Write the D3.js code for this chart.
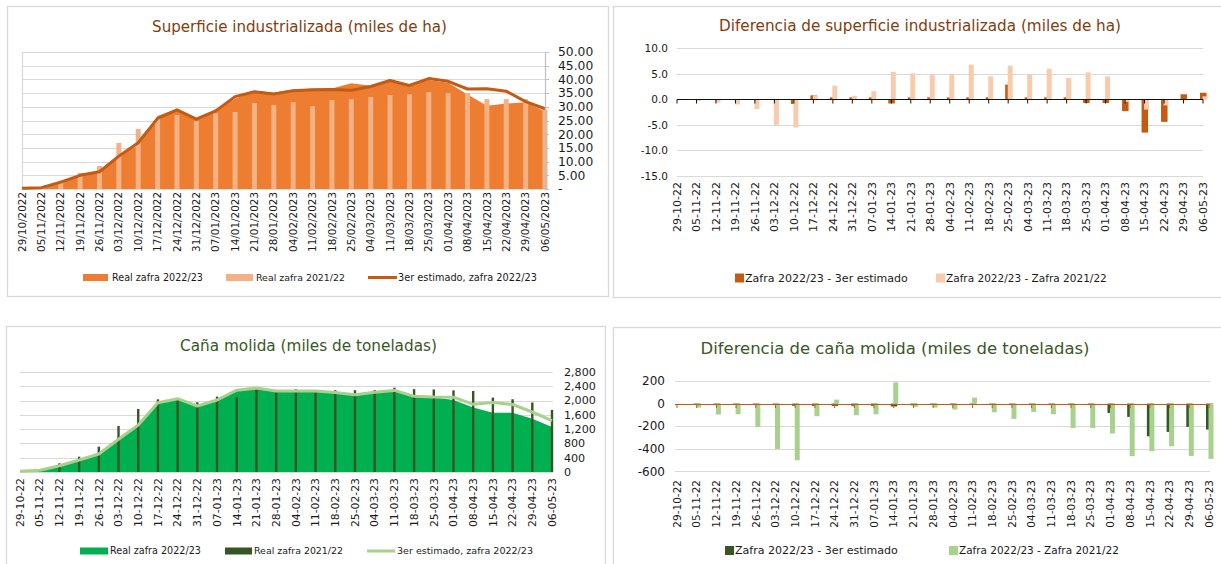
<!DOCTYPE html>
<html><head><meta charset="utf-8">
<script src="https://cdn.jsdelivr.net/npm/d3@7/dist/d3.min.js"></script>
<style>body{margin:0;background:#fff} svg{display:block;font-family:"DejaVu Sans",sans-serif}</style>
</head><body><svg id="c" width="1221" height="564"></svg>
<script>
// ---------- DATA ----------
const datesLong = ["29/10/2022","05/11/2022","12/11/2022","19/11/2022","26/11/2022","03/12/2022","10/12/2022","17/12/2022","24/12/2022","31/12/2022","07/01/2023","14/01/2023","21/01/2023","28/01/2023","04/02/2023","11/02/2023","18/02/2023","25/02/2023","04/03/2023","11/03/2023","18/03/2023","25/03/2023","01/04/2023","08/04/2023","15/04/2023","22/04/2023","29/04/2023","06/05/2023"];
const datesShort = ["29-10-22","05-11-22","12-11-22","19-11-22","26-11-22","03-12-22","10-12-22","17-12-22","24-12-22","31-12-22","07-01-23","14-01-23","21-01-23","28-01-23","04-02-23","11-02-23","18-02-23","25-02-23","04-03-23","11-03-23","18-03-23","25-03-23","01-04-23","08-04-23","15-04-23","22-04-23","29-04-23","06-05-23"];

// Superficie industrializada (miles de ha)
const supReal2223 = [0.3,0.5,2.5,5.0,6.3,12.0,16.0,26.6,29.3,25.9,28.9,32.9,35.9,35.1,36.3,36.6,36.7,38.6,37.7,39.9,38.1,39.8,38.8,34.5,30.4,31.2,31.7,28.3];
const supReal2122 = [0,0.3,3.0,5.8,8.4,16.8,21.9,25.5,27.0,24.8,27.7,28.1,31.4,30.7,31.7,30.3,32.5,32.8,33.6,34.3,34.6,35.4,35.0,35.0,32.8,32.8,32.8,29.0];
const supEst3 = [0.3,0.5,2.5,5.0,6.3,12.0,16.9,25.8,28.9,25.5,28.5,33.7,35.5,34.7,35.9,36.2,36.3,36.0,37.4,39.6,37.8,40.3,39.3,36.5,36.6,35.7,31.9,29.3];
const supTicks = [0,5,10,15,20,25,30,35,40,45,50];
const supTickLabels = ["-","5.00","10.00","15.00","20.00","25.00","30.00","35.00","40.00","45.00","50.00"];

// Diferencia de superficie
const supDiffEst = [0,0,0,0,0,0,-0.9,0.8,0.4,0.4,0.4,-0.8,0.4,0.4,0.4,0.4,0.4,2.9,0.4,0.4,0.4,-0.7,-0.7,-2.3,-6.5,-4.4,1.0,1.3];
const supDiffPrev = [0,-0.3,-0.6,-1.0,-1.9,-5.0,-5.5,0.8,2.7,0.7,1.6,5.4,5.1,4.8,5.0,6.8,4.5,6.6,4.8,6.0,4.2,5.3,4.5,-0.5,-2.0,-1.2,-0.2,0.6];
const supDiffTicks = [-15,-10,-5,0,5,10];
const supDiffTickLabels = ["-15.0","-10.0","-5.0","0.0","5.0","10.0"];

// Caña molida (miles de toneladas)
const canaReal2223 = [20,50,176,336,504,915,1316,1941,2053,1848,2016,2277,2343,2262,2262,2262,2215,2156,2221,2277,2109,2090,2015,1805,1662,1660,1490,1260];
const canaReal2122 = [0,20,243,429,709,1288,1764,2035,2018,1951,2111,2095,2300,2290,2315,2230,2290,2290,2293,2360,2320,2310,2285,2270,2083,2037,1945,1740];
const canaEst3 = [20,50,176,336,504,915,1316,1941,2053,1848,2016,2290,2350,2270,2270,2270,2225,2165,2230,2285,2120,2100,2095,1895,1945,1890,1680,1440];
const canaTicks = [0,400,800,1200,1600,2000,2400,2800];
const canaTickLabels = ["0","400","800","1,200","1,600","2,000","2,400","2,800"];

// Diferencia de caña molida
const canaDiffEst = [0,-5,-5,-5,-5,-5,-20,-20,-20,-20,-20,-25,-15,-10,-10,-10,-10,-10,-10,-10,-10,-10,-83,-118,-290,-251,-207,-230];
const canaDiffPrev = [0,-35,-97,-95,-207,-402,-502,-112,35,-103,-95,188,-30,-35,-53,53,-77,-136,-74,-95,-216,-216,-265,-466,-422,-378,-464,-490];
const canaDiffTicks = [-600,-400,-200,0,200];
const canaDiffTickLabels = ["-600","-400","-200","0","200"];

// ---------- DRAW ----------
const svg = d3.select("#c");
svg.append("rect").attr("width",1221).attr("height",564).attr("fill","#fff");

const C = {
  orange:"#ED7D31", orangeLight:"#F4B183", orangeDark:"#C55A11", orangePale:"#F8CBAD", brown:"#843C0C",
  green:"#00B050", greenDark:"#375623", greenLight:"#A9D18E", greenTitle:"#385723",
  grid:"#d9d9d9", text:"#1a1a1a"
};

function fit(sel, w){
  const n = sel.node(); const fs = parseFloat(sel.attr("font-size"));
  const len = n.getComputedTextLength();
  sel.attr("font-size", (fs*w/len).toFixed(2));
  return sel;
}
function panel(x0,y0,x1,y1){
  svg.append("rect").attr("x",x0+0.5).attr("y",y0+0.5).attr("width",x1-x0).attr("height",y1-y0)
    .attr("fill","#fff").attr("stroke",C.grid).attr("stroke-width",1.3);
}
function title(txt,cx,by,w,col){
  const t = svg.append("text").attr("x",cx).attr("y",by).attr("text-anchor","middle")
    .attr("font-size",15).attr("fill",col).text(txt);
  fit(t,w);
}
function grid(ys, ticks, xa, xb){
  svg.append("g").selectAll("line").data(ticks).join("line")
    .attr("x1",xa).attr("x2",xb).attr("y1",d=>Math.round(ys(d))+0.5).attr("y2",d=>Math.round(ys(d))+0.5)
    .attr("stroke",C.grid).attr("stroke-width",1.2);
}
function xLabels(xs, labels, top, fs){
  svg.append("g").selectAll("text").data(labels).join("text")
    .attr("transform",(d,i)=>`translate(${xs(i)},${top}) rotate(-90)`)
    .attr("text-anchor","end").attr("dy","0.35em").attr("font-size",fs).attr("fill",C.text).text(d=>d);
}
function yLabels(ys, ticks, labels, x, anchor, fs){
  svg.append("g").selectAll("text").data(ticks).join("text")
    .attr("x",x).attr("y",d=>ys(d)).attr("dy","0.35em").attr("text-anchor",anchor)
    .attr("font-size",fs).attr("fill",C.text).text((d,i)=>labels[i]);
}
function legendText(x,y,txt,w){
  const t = svg.append("text").attr("x",x).attr("y",y).attr("dy","0.35em").attr("font-size",10).attr("fill",C.text).text(txt);
  fit(t,w);
}
const idx = d3.range(datesLong.length);

// ===== Panel 1 =====
panel(7,6,608,296);
title("Superficie industrializada (miles de ha)",299.5,32,295,C.brown);
{
  const xs = d3.scalePoint().domain(idx).range([22,545]);
  const ys = d3.scaleLinear().domain([0,50]).range([189,52]);
  grid(ys, supTicks, 22, 545);
  svg.append("line").attr("x1",22.5).attr("x2",22.5).attr("y1",52).attr("y2",189).attr("stroke",C.grid).attr("stroke-width",1.2);
  svg.append("path").datum(supReal2223)
    .attr("d", d3.area().x((d,i)=>xs(i)).y0(ys(0)).y1(d=>ys(d)))
    .attr("fill",C.orange);
  svg.append("g").selectAll("rect").data(supReal2122).join("rect")
    .attr("x",(d,i)=>xs(i)-2.5).attr("width",5).attr("y",d=>ys(d)).attr("height",d=>ys(0)-ys(d))
    .attr("fill",C.orangeLight);
  svg.append("path").datum(supEst3)
    .attr("d", d3.line().x((d,i)=>xs(i)).y(d=>ys(d)))
    .attr("fill","none").attr("stroke",C.orangeDark).attr("stroke-width",3).attr("stroke-linejoin","round");
  // right axis
  svg.append("line").attr("x1",545.5).attr("x2",545.5).attr("y1",52).attr("y2",189).attr("stroke","#bfbfbf").attr("stroke-width",1.2);
  svg.append("g").selectAll("line").data(supTicks).join("line")
    .attr("x1",545).attr("x2",549).attr("y1",d=>Math.round(ys(d))+0.5).attr("y2",d=>Math.round(ys(d))+0.5)
    .attr("stroke","#bfbfbf");
  yLabels(ys, supTicks, supTickLabels, 558, "start", 12.3);
  xLabels(xs, datesLong, 192, 10.4);
  // legend
  svg.append("rect").attr("x",83).attr("y",274).attr("width",25).attr("height",7).attr("fill",C.orange);
  legendText(112,277.5,"Real zafra 2022/23",91);
  svg.append("rect").attr("x",226).attr("y",274).attr("width",27).attr("height",7).attr("fill",C.orangeLight);
  legendText(256,277.5,"Real zafra 2021/22",89);
  svg.append("line").attr("x1",368).attr("x2",397).attr("y1",277.5).attr("y2",277.5).attr("stroke",C.orangeDark).attr("stroke-width",3);
  legendText(398,277.5,"3er estimado, zafra 2022/23",139);
}

// ===== Panel 2 =====
panel(613,6,1230,297);
title("Diferencia de superficie industrializada (miles de ha)",920,31,402,C.brown);
{
  const xs = d3.scalePoint().domain(idx).range([677,1203]);
  const ys = d3.scaleLinear().domain([-15,10]).range([176,48.3]);
  grid(ys, supDiffTicks.filter(d=>d!==0), 677, 1203);
  svg.append("g").selectAll("rect").data(supDiffEst).join("rect")
    .attr("x",(d,i)=>xs(i)-3).attr("width",6.5)
    .attr("y",d=>ys(Math.max(0,d))).attr("height",d=>Math.abs(ys(d)-ys(0)))
    .attr("fill",C.orangeDark);
  svg.append("g").selectAll("rect").data(supDiffPrev).join("rect")
    .attr("x",(d,i)=>xs(i)-0.5).attr("width",5)
    .attr("y",d=>ys(Math.max(0,d))).attr("height",d=>Math.abs(ys(d)-ys(0)))
    .attr("fill",C.orangePale);
  const y0 = Math.round(ys(0))+0.5;
  svg.append("line").attr("x1",677).attr("x2",1203).attr("y1",y0).attr("y2",y0).attr("stroke","#111").attr("stroke-width",1.2);
  svg.append("g").selectAll("line").data(idx).join("line")
    .attr("x1",d=>xs(d)).attr("x2",d=>xs(d)).attr("y1",y0).attr("y2",y0+4).attr("stroke","#111");
  yLabels(ys, supDiffTicks, supDiffTickLabels, 668, "end", 10.5);
  xLabels(xs, datesShort, 182, 11);
  svg.append("rect").attr("x",735).attr("y",273.5).attr("width",9).attr("height",9).attr("fill",C.orangeDark);
  legendText(745,278,"Zafra 2022/23 - 3er estimado",163);
  svg.append("rect").attr("x",936).attr("y",273.5).attr("width",9).attr("height",9).attr("fill",C.orangePale);
  legendText(946,278,"Zafra 2022/23 - Zafra 2021/22",161);
}

// ===== Panel 3 =====
panel(6,326,605,580);
title("Caña molida (miles de toneladas)",308.5,350.5,257,C.greenTitle);
{
  const xs = d3.scalePoint().domain(idx).range([20,552]);
  const ys = d3.scaleLinear().domain([0,2800]).range([472,372]);
  grid(ys, canaTicks, 20, 553);
  svg.append("path").datum(canaReal2223)
    .attr("d", d3.area().x((d,i)=>xs(i)).y0(ys(0)).y1(d=>ys(d)))
    .attr("fill",C.green);
  svg.append("g").selectAll("rect").data(canaReal2122).join("rect")
    .attr("x",(d,i)=>xs(i)-1.2).attr("width",2.4).attr("y",d=>ys(d)).attr("height",d=>ys(0)-ys(d))
    .attr("fill",C.greenDark);
  svg.append("path").datum(canaEst3)
    .attr("d", d3.line().x((d,i)=>xs(i)).y(d=>ys(d)))
    .attr("fill","none").attr("stroke",C.greenLight).attr("stroke-width",3).attr("stroke-linejoin","round");
  yLabels(ys, canaTicks, canaTickLabels, 564, "start", 11.1);
  xLabels(xs, datesShort, 478, 10.8);
  svg.append("rect").attr("x",80).attr("y",547.5).attr("width",28).attr("height",7).attr("fill",C.green);
  legendText(110,551,"Real zafra 2022/23",91);
  svg.append("rect").attr("x",225).attr("y",547.5).attr("width",27).attr("height",7).attr("fill",C.greenDark);
  legendText(254,551,"Real zafra 2021/22",89);
  svg.append("line").attr("x1",367).attr("x2",395).attr("y1",551).attr("y2",551).attr("stroke",C.greenLight).attr("stroke-width",3);
  legendText(397,551,"3er estimado, zafra 2022/23",136);
}

// ===== Panel 4 =====
panel(613,327,1230,580);
title("Diferencia de caña molida (miles de toneladas)",895,353.5,389,C.greenTitle);
{
  const xs = d3.scalePoint().domain(idx).range([677,1209]);
  const ys = d3.scaleLinear().domain([-600,200]).range([471.3,381]);
  grid(ys, canaDiffTicks.filter(d=>d!==0), 675, 1210);
  svg.append("g").selectAll("rect").data(canaDiffEst).join("rect")
    .attr("x",(d,i)=>xs(i)-3).attr("width",6.5)
    .attr("y",d=>ys(Math.max(0,d))).attr("height",d=>Math.abs(ys(d)-ys(0)))
    .attr("fill",C.greenDark);
  svg.append("g").selectAll("rect").data(canaDiffPrev).join("rect")
    .attr("x",(d,i)=>xs(i)-0.5).attr("width",5)
    .attr("y",d=>ys(Math.max(0,d))).attr("height",d=>Math.abs(ys(d)-ys(0)))
    .attr("fill",C.greenLight);
  const y0 = Math.round(ys(0))+0.5;
  svg.append("line").attr("x1",675).attr("x2",1210).attr("y1",y0).attr("y2",y0).attr("stroke",C.orangeDark).attr("stroke-width",1.2);
  svg.append("g").selectAll("line").data(idx).join("line")
    .attr("x1",d=>xs(d)).attr("x2",d=>xs(d)).attr("y1",y0).attr("y2",y0+3.5).attr("stroke",C.orangeDark);
  yLabels(ys, canaDiffTicks, canaDiffTickLabels, 665, "end", 12);
  xLabels(xs, datesShort, 480, 10.5);
  svg.append("rect").attr("x",725).attr("y",546).attr("width",9).attr("height",9).attr("fill",C.greenDark);
  legendText(735,550.5,"Zafra 2022/23 - 3er estimado",163);
  svg.append("rect").attr("x",949).attr("y",546).attr("width",9).attr("height",9).attr("fill",C.greenLight);
  legendText(959,550.5,"Zafra 2022/23 - Zafra 2021/22",160);
}
</script></body></html>
